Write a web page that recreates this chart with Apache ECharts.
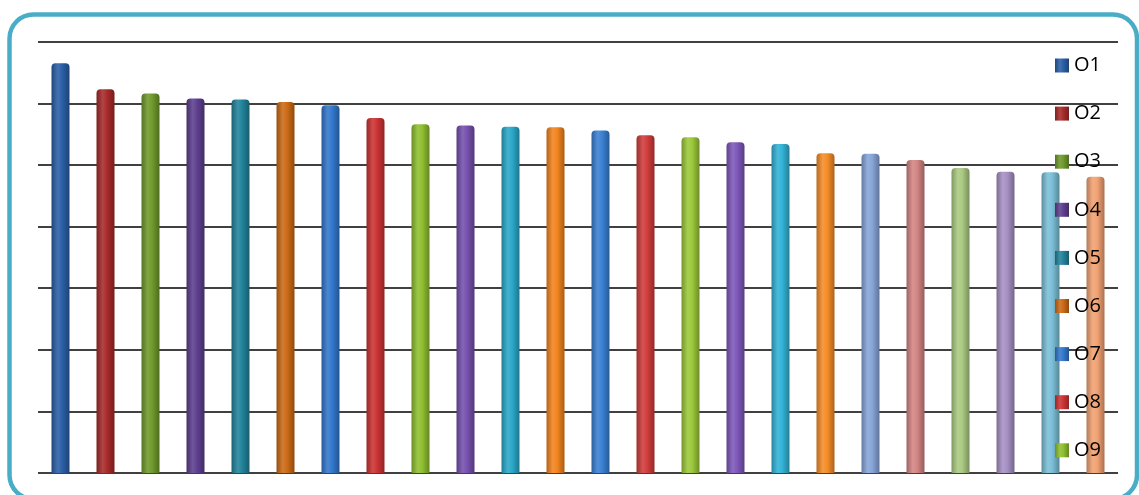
<!DOCTYPE html>
<html>
<head>
<meta charset="utf-8">
<script src="https://cdn.jsdelivr.net/npm/echarts@6/dist/echarts.min.js"></script>
<style>
html,body{margin:0;padding:0;background:#fff;}
#c{width:1139px;height:495px;}
</style>
</head>
<body>
<div id="c"></div>
<script>
var categories = ['O1','O2','O3','O4','O5','O6','O7','O8','O9','O10','O11','O12',
                  'O13','O14','O15','O16','O17','O18','O19','O20','O21','O22','O23','O24'];
var values = [6.65, 6.23, 6.16, 6.08, 6.06, 6.02, 5.97, 5.76, 5.66, 5.64, 5.62, 5.61,
              5.56, 5.48, 5.45, 5.37, 5.34, 5.19, 5.18, 5.08, 4.95, 4.89, 4.88, 4.81];
var legendShown = ['O1','O2','O3','O4','O5','O6','O7','O8','O9'];
var barColors = ['#2B5FA6','#A82A2A','#6F9A2C','#5E3F8F','#22839B','#CC6A16',
                 '#3378CC','#CC3333','#8FBF30','#7650AE','#2AA8C8','#F2841E',
                 '#3A80D4','#D23C3C','#9CC83A','#7E58BA','#33B3D6','#F58D28',
                 '#87A5D8','#D38584','#ABCA82','#A690C4','#7BBFD6','#F1A272'];

function shade(hex, f) {
  var n = parseInt(hex.slice(1), 16);
  var r = (n >> 16) & 255, g = (n >> 8) & 255, b = n & 255;
  function adj(c) {
    return Math.max(0, Math.min(255, Math.round(f < 0 ? c * (1 + f) : c + (255 - c) * f)));
  }
  return 'rgb(' + adj(r) + ',' + adj(g) + ',' + adj(b) + ')';
}
function grad(hex) {
  return new echarts.graphic.LinearGradient(0, 0, 1, 0, [
    {offset: 0, color: shade(hex, -0.25)},
    {offset: 0.35, color: shade(hex, 0.12)},
    {offset: 0.6, color: hex},
    {offset: 1, color: shade(hex, -0.3)}
  ]);
}

var series = categories.map(function (name, i) {
  var d = categories.map(function (c, j) { return j === i ? values[i] : '-'; });
  return {
    name: name,
    type: 'bar',
    stack: 'all',
    barWidth: 18,
    data: d,
    itemStyle: { color: grad(barColors[i]), borderRadius: [4, 4, 0, 0] },
    emphasis: { disabled: true }
  };
});

var chart = echarts.init(document.getElementById('c'), null, {renderer: 'canvas'});
chart.setOption({
  backgroundColor: '#ffffff',
  animation: false,
  graphic: [{
    type: 'rect',
    shape: { x: 9.5, y: 14.5, width: 1127.5, height: 484.5, r: 24 },
    style: { fill: 'none', stroke: '#4AADC7', lineWidth: 4.5 },
    z: 100
  }],
  grid: { left: 38, right: 21, top: 41.7, bottom: 22, containLabel: false },
  xAxis: {
    type: 'category',
    data: categories,
    axisLine: { show: false },
    axisTick: { show: false },
    axisLabel: { show: false }
  },
  yAxis: {
    type: 'value',
    min: 0, max: 7, interval: 1,
    axisLine: { show: false },
    axisTick: { show: false },
    axisLabel: { show: false },
    splitLine: { show: true, lineStyle: { color: '#000000', width: 1.5 } }
  },
  legend: {
    data: legendShown,
    orient: 'vertical',
    left: 1050,
    top: 50.5,
    padding: 5,
    icon: 'rect',
    itemWidth: 14,
    itemHeight: 14,
    itemGap: 28.1,
    textStyle: { fontFamily: 'Open Sans', fontSize: 20, lineHeight: 20, color: '#000000' }
  },
  series: series
});
</script>
</body>
</html>
